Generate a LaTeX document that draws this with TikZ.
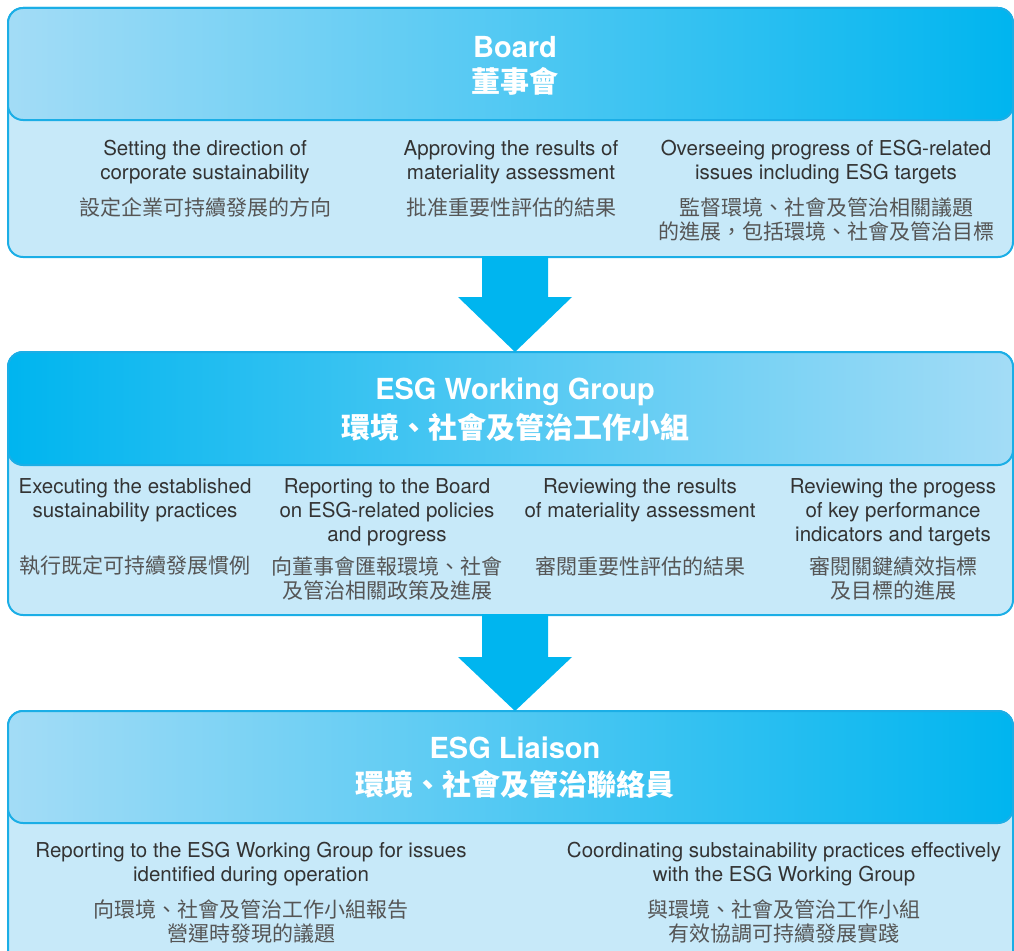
\documentclass[tikz,border=0pt]{standalone}
\usepackage{fontspec}
\setmainfont{TeX Gyre Heros}
\newfontfamily\cjk{Noto Sans CJK TC}
\usetikzlibrary{calc}
\definecolor{sat}{HTML}{00B5EF}
\definecolor{lite}{HTML}{A3DCF6}
\definecolor{bodyc}{HTML}{C7E9F9}
\definecolor{edge}{HTML}{1BAEE6}
\definecolor{entext}{HTML}{333333}
\definecolor{zhtext}{HTML}{555555}
\tikzset{
  bodybox/.style={draw=edge, line width=2pt, fill=bodyc, rounded corners=15pt, anchor=north west, minimum width=1005pt, inner sep=0pt, outer sep=0pt},
  headbox/.style={draw=edge, line width=2pt, rounded corners=15pt, anchor=north west, minimum width=1005pt, minimum height=112pt, inner sep=0pt, outer sep=0pt},
  lr/.style={left color=lite, right color=sat},
  rl/.style={left color=sat, right color=lite},
  title/.style={text=white, font=\fontsize{29}{34}\selectfont\bfseries, inner sep=0pt},
  titlezh/.style={text=white, font=\fontsize{29}{34}\selectfont\cjk\bfseries, inner sep=0pt},
  en/.style={text=entext, font=\fontsize{20.5}{24}\selectfont, align=center, inner sep=0pt},
  zh/.style={text=zhtext, font=\fontsize{21}{24.5}\selectfont\cjk, align=center, inner sep=0pt},
  blockarrow/.style={fill=sat, draw=none}
}
\begin{document}
\begin{tikzpicture}[x=1pt, y=-1pt]
\useasboundingbox (0,0) rectangle (1014,950);
\clip (0,0) rectangle (1014,950);
% Box 1
\node[bodybox, minimum height=249pt] (b1) at (8,8) {};
\node[headbox, lr] (h1) at (8,8) {};
\node[title] (h1e) at (515,47) {Board};
\node[titlezh] (h1z) at (515,81) {董事會};
\node[en] (e11) at (205,162) {Setting the direction of\\corporate sustainability};
\node[zh] (z11) at (205,207) {設定企業可持續發展的方向};
\node[en] (e12) at (511,162) {Approving the results of\\materiality assessment};
\node[zh] (z12) at (511,207) {批准重要性評估的結果};
\node[en] (e13) at (826,162) {Overseeing progress of ESG-related\\issues including ESG targets};
\node[zh] (z13) at (826,219.5) {監督環境、社會及管治相關議題\\的進展，包括環境、社會及管治目標};
% Box 2
\node[bodybox, minimum height=263pt] (b2) at (8,352) {};
\node[headbox, rl, minimum height=113pt] (h2) at (8,352) {};
\node[title] (h2e) at (515,392) {ESG Working Group};
\node[titlezh] (h2z) at (515,428) {環境、社會及管治工作小組};
\node[en] (e21) at (135,500.5) {Executing the established\\sustainability practices};
\node[zh] (z21) at (135,566) {執行既定可持續發展慣例};
\node[en] (e22) at (387,512) {Reporting to the Board\\on ESG-related policies\\and progress};
\node[zh] (z22) at (387,578.5) {向董事會匯報環境、社會\\及管治相關政策及進展};
\node[en] (e23) at (640,500.5) {Reviewing the results\\of materiality assessment};
\node[zh] (z23) at (640,566) {審閱重要性評估的結果};
\node[en] (e24) at (893,512) {Reviewing the progess\\of key performance\\indicators and targets};
\node[zh] (z24) at (893,578.5) {審閱關鍵績效指標\\及目標的進展};
% Box 3
\node[bodybox, minimum height=280pt] (b3) at (8,711) {};
\node[headbox, lr] (h3) at (8,711) {};
\node[title] (h3e) at (515,748) {ESG Liaison};
\node[titlezh] (h3z) at (515,785) {環境、社會及管治聯絡員};
\node[en] (e31) at (251,864.5) {Reporting to the ESG Working Group for issues\\identified during operation};
\node[zh] (z31) at (251,921.5) {向環境、社會及管治工作小組報告\\營運時發現的議題};
\node[en] (e32) at (784,864.5) {Coordinating substainability practices effectively\\with the ESG Working Group};
\node[zh] (z32) at (784,921.5) {與環境、社會及管治工作小組\\有效協調可持續發展實踐};
% Arrows
\fill[blockarrow] ($(b1.south)+(-28.5,-1)$) -- ++(0,41) -- ++(-24,0) -- ($(b2.north)+(4.5,0)$) -- ($(b1.south)+(61.5,40)$) -- ++(-24,0) -- ($(b1.south)+(37.5,-1)$) -- cycle;
\fill[blockarrow] ($(b2.south)+(-28.5,-1)$) -- ++(0,43) -- ++(-24,0) -- ($(b3.north)+(4.5,0)$) -- ($(b2.south)+(61.5,42)$) -- ++(-24,0) -- ($(b2.south)+(37.5,-1)$) -- cycle;
\end{tikzpicture}
\end{document}
